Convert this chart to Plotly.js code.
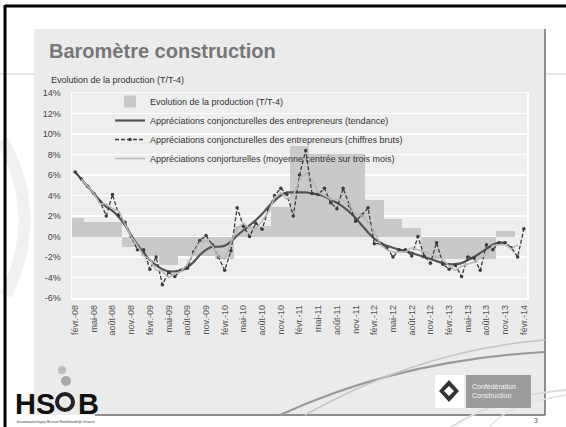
<!DOCTYPE html>
<html><head><meta charset="utf-8">
<script src="https://cdn.plot.ly/plotly-3.0.1.min.js"></script>
<style>html,body{margin:0;padding:0;background:#fff;}#chart{width:566px;height:427px;}</style>
</head><body><div id="chart"></div>
<script>
// ---------- DATA ----------
const months = [
"févr.-08","mars-08","avr.-08","mai-08","juin-08","juil.-08","août-08","sept.-08","oct.-08","nov.-08","déc.-08",
"janv.-09","févr.-09","mars-09","avr.-09","mai-09","juin-09","juil.-09","août-09","sept.-09","oct.-09","nov.-09","déc.-09",
"janv.-10","févr.-10","mars-10","avr.-10","mai-10","juin-10","juil.-10","août-10","sept.-10","oct.-10","nov.-10","déc.-10",
"janv.-11","févr.-11","mars-11","avr.-11","mai-11","juin-11","juil.-11","août-11","sept.-11","oct.-11","nov.-11","déc.-11",
"janv.-12","févr.-12","mars-12","avr.-12","mai-12","juin-12","juil.-12","août-12","sept.-12","oct.-12","nov.-12","déc.-12",
"janv.-13","févr.-13","mars-13","avr.-13","mai-13","juin-13","juil.-13","août-13","sept.-13","oct.-13","nov.-13","déc.-13",
"janv.-14","févr.-14"
];
// Evolution de la production (T/T-4), quarterly value repeated on each month
const production = [
1.85,1.85,
1.4,1.4,1.4, 1.4,1.4,1.4, -1.0,-1.0,-1.0,
-1.9,-1.9,-1.9, -2.8,-2.8,-2.8, -1.9,-1.9,-1.9, -1.9,-1.9,-1.9,
-2.2,-2.2,-2.2, 1.0,1.0,1.0, 1.0,1.0,1.0, 2.85,2.85,2.85,
8.8,8.8,8.8, 8.05,8.05,8.05, 8.05,8.05,8.05, 8.05,8.05,8.05,
3.6,3.6,3.6, 1.7,1.7,1.7, 0.8,0.8,0.8, -2.2,-2.2,-2.2,
-2.2,-2.2,-2.2, -2.2,-2.2,-2.2, -2.2,-2.2,-2.2, 0.5,0.5,0.5,
null,null
];
const tendance = [
6.3,5.6,4.9,4.2,3.5,2.9,2.5,1.9,1.1,0.1,-0.8,
-1.6,-2.3,-2.8,-3.2,-3.4,-3.4,-3.3,-3.0,-2.5,-1.8,-1.3,-1.0,
-1.0,-0.9,-0.5,0.1,0.6,1.1,1.6,2.2,2.9,3.5,4.0,4.3,
4.3,4.3,4.3,4.2,4.1,3.9,3.6,3.3,2.9,2.4,1.8,1.1,
0.4,-0.2,-0.6,-0.9,-1.1,-1.3,-1.4,-1.6,-1.8,-2.0,-2.2,-2.4,
-2.6,-2.7,-2.7,-2.6,-2.3,-2.0,-1.6,-1.2,-0.8,-0.6,-0.6,null,
null,null
];
const bruts = [
6.3,5.6,4.9,4.2,3.4,2.0,4.1,2.1,1.4,0.0,-1.3,
-1.3,-3.2,-2.0,-4.7,-3.5,-3.9,-3.3,-3.1,-1.5,-0.4,0.1,-0.8,
-2.0,-3.3,-1.4,2.8,1.0,0.0,1.3,0.7,2.6,4.0,4.7,4.1,
2.0,6.0,8.4,4.2,4.1,4.7,3.3,2.7,4.7,3.0,1.5,2.1,
2.8,-0.7,-0.7,-1.1,-2.0,-1.3,-1.3,-1.9,0.0,-1.9,-2.6,-0.6,
-2.7,-3.2,-2.8,-3.9,-2.0,-2.1,-3.3,-0.8,-1.3,-0.6,-0.6,-1.1,
-2.0,0.75
];
const moyenne = [
null,5.6,4.9,4.2,3.2,3.2,2.7,2.5,1.2,0.0,-0.9,
-1.9,-2.2,-3.3,-3.4,-4.0,-3.6,-3.4,-2.7,-1.7,-0.6,-0.4,-0.9,
-2.0,-2.2,-0.6,0.8,1.3,0.8,0.7,1.5,2.4,3.8,4.3,3.6,
4.0,5.5,6.2,5.6,4.3,4.0,3.6,3.6,3.5,3.1,2.2,2.1,
1.4,0.5,-0.8,-1.3,-1.5,-1.5,-1.5,-1.1,-1.3,-1.5,-1.7,-2.0,
-2.2,-2.9,-3.3,-2.9,-2.7,-2.5,-2.1,-1.8,-0.9,-0.8,-0.8,-1.2,
-0.8,null
];
const seriesNames = [
"Evolution de la production (T/T-4)",
"Appréciations conjoncturelles des entrepreneurs (tendance)",
"Appréciations conjoncturelles des entrepreneurs (chiffres bruts)",
"Appréciations conjorturelles (moyenne centrée sur trois mois)"
];
const yTicks = [-6,-4,-2,0,2,4,6,8,10,12,14];
const yTickLabels = ["-6%","-4%","-2%","0%","2%","4%","6%","8%","10%","12%","14%"];
const titleText = "Baromètre construction";
const subtitleText = "Evolution de la production (T/T-4)";

// ---------- LAYOUT HELPERS (pixel -> paper) ----------
const L=72, R=527, T=93, B=298;
const W=R-L, H=B-T;
const px = x => (x-L)/W;
const py = y => (B-y)/H;

const tickCats = months.filter((m,i)=> i%3===0);

const traces = [
 {type:'bar', x:months, y:production, name:seriesNames[0],
  marker:{color:'#c9c9c9', line:{width:0}}, hoverinfo:'skip'},
 {type:'scatter', mode:'lines', x:months, y:tendance, name:seriesNames[1],
  line:{color:'#555555', width:2.2, shape:'spline', smoothing:0.6}},
 {type:'scatter', mode:'lines+markers', x:months, y:bruts, name:seriesNames[2],
  line:{color:'#3c3c3c', width:1.3, dash:'4px,2px'}, marker:{size:3.5, color:'#3c3c3c'}},
 {type:'scatter', mode:'lines', x:months, y:moyenne, name:seriesNames[3],
  line:{color:'#b8b8b8', width:1.5}}
];

function rect(x0,y0,x1,y1,fill,line){
  return {type:'rect', xref:'paper', yref:'paper', x0:px(x0), x1:px(x1), y0:py(y0), y1:py(y1),
    fillcolor:fill, line: line||{width:0}, layer:'below'};
}
function seg(x0,y0,x1,y1,color,width,layer){
  return {type:'line', xref:'paper', yref:'paper', x0:px(x0), x1:px(x1), y0:py(y0), y1:py(y1),
    line:{color:color, width:width}, layer:layer||'below'};
}
function qpath(pts,color,width,layer){
  const p = `M ${px(pts[0])},${py(pts[1])} Q ${px(pts[2])},${py(pts[3])} ${px(pts[4])},${py(pts[5])}`;
  return {type:'path', xref:'paper', yref:'paper', path:p, line:{color:color,width:width}, layer:layer||'below'};
}
function circ(cx,cy,r,fill,lineColor,lw){
  return {type:'circle', xref:'paper', yref:'paper', x0:px(cx-r), x1:px(cx+r), y0:py(cy+r), y1:py(cy-r),
    fillcolor:fill, line:{color:lineColor||fill, width:lw||0}, layer:'above'};
}
function rectA(x0,y0,x1,y1,fill){ const r=rect(x0,y0,x1,y1,fill); r.layer='above'; return r; }

const shapes = [
  seg(0,74,566,74,'#d0d0d0',1),
  qpath([2,140, 45,215, 6,295],'#f0f0f0',12),
  rect(34,29,545,415,'#ebebeb'),
  rect(72,93,527,298,'#eeeeee'),
  seg(545,29,545,415,'#6a6a6a',1.5),
  seg(95,415,545,415,'#6a6a6a',1.5),
  qpath([280,415, 400,360, 545,352],'#9a9a9a',2.2,'above'),
  qpath([305,415, 420,350, 545,340],'#c4c4c4',1.5,'above'),
  qpath([448,429, 500,395, 566,390],'#dcdcdc',2,'below'),
  qpath([490,427, 505,405, 566,395],'#e2e2e2',1.5,'below'),
  seg(5,5,5,427,'#000',3,'above'),
  seg(5,6,566,6,'#000',3,'above'),
  // confederation logo
  rectA(435,375,464,408,'#ffffff'),
  {type:'path', xref:'paper', yref:'paper', layer:'above', fillcolor:'#333', line:{width:0},
   path:`M ${px(449)},${py(380)} L ${px(459)},${py(391)} L ${px(449)},${py(402)} L ${px(439)},${py(391)} Z`},
  {type:'path', xref:'paper', yref:'paper', layer:'above', fillcolor:'#fff', line:{width:0},
   path:`M ${px(449)},${py(386)} L ${px(454)},${py(391)} L ${px(449)},${py(396)} L ${px(444)},${py(391)} Z`},
  rectA(466,375,531,408,'#9b9b9b'),
  // HSOB figure
  circ(65,402,8,'rgba(0,0,0,0)','#222',4),
  circ(62,370,4,'#bdbdbd'),
  circ(66,381,5,'#a8a8a8'),
];

const annotations = [
  {text:titleText, xref:'paper', yref:'paper', x:px(47), y:py(51), xanchor:'left', yanchor:'middle',
   showarrow:false, font:{family:'Liberation Sans, Arial', size:20, color:'#777777', weight:600}},
  {text:subtitleText, xref:'paper', yref:'paper', x:px(49), y:py(80), xanchor:'left', yanchor:'middle',
   showarrow:false, font:{family:'Liberation Sans, Arial', size:9, color:'#333'}},
  {text:'<b>HS</b>', xref:'paper', yref:'paper', x:px(13), y:py(404), xanchor:'left', yanchor:'middle',
   showarrow:false, font:{family:'Liberation Sans, Arial', size:29, color:'#111'}},
  {text:'<b>B</b>', xref:'paper', yref:'paper', x:px(76), y:py(404), xanchor:'left', yanchor:'middle',
   showarrow:false, font:{family:'Liberation Sans, Arial', size:29, color:'#111'}},
  {text:'bouwmaatschappij Brussel-Hoofdstedelijk Gewest', xref:'paper', yref:'paper', x:px(15), y:py(422), xanchor:'left', yanchor:'middle',
   showarrow:false, font:{family:'Liberation Sans, Arial', size:3.5, color:'#444'}},
  {text:'Confédération<br>Construction', xref:'paper', yref:'paper', x:px(470), y:py(391), xanchor:'left', yanchor:'middle',
   align:'left', showarrow:false, font:{family:'Liberation Sans, Arial', size:7, color:'#f4f4f4'}},
  {text:'3', xref:'paper', yref:'paper', x:px(536), y:py(420), xanchor:'center', yanchor:'middle',
   showarrow:false, font:{family:'Liberation Sans, Arial', size:7, color:'#555'}}
];

const layout = {
  width:566, height:427,
  margin:{l:L, r:566-R, t:T, b:427-B, pad:0},
  paper_bgcolor:'#ffffff', plot_bgcolor:'rgba(0,0,0,0)',
  font:{family:'Liberation Sans, Arial, sans-serif', size:9, color:'#333'},
  bargap:0,
  showlegend:true,
  legend:{x:px(110), y:py(87), xanchor:'left', yanchor:'top', bgcolor:'rgba(0,0,0,0)',
    font:{size:9, color:'#333'}, traceorder:'normal', itemwidth:30, tracegroupgap:0},
  xaxis:{type:'category', categoryarray:months, tickvals:tickCats, ticktext:tickCats, tickangle:-90,
    tickfont:{size:9, color:'#555'}, showgrid:false, zeroline:false, showline:true, linecolor:'#ffffff',
    linewidth:1.5, mirror:true, ticks:'outside', ticklen:2, tickcolor:'rgba(0,0,0,0)',
    range:[-0.5, months.length-0.5], automargin:false},
  yaxis:{range:[-6,14], tickvals:yTicks, ticktext:yTickLabels, tickfont:{size:9, color:'#444'},
    showgrid:true, gridcolor:'#ffffff', gridwidth:1.3, zeroline:false, showline:true, linecolor:'#ffffff',
    linewidth:1.5, mirror:true, ticks:'outside', ticklen:8, tickcolor:'rgba(0,0,0,0)', automargin:false},
  shapes:shapes, annotations:annotations
};

Plotly.newPlot('chart', traces, layout, {staticPlot:true, displayModeBar:false});
</script></body></html>
